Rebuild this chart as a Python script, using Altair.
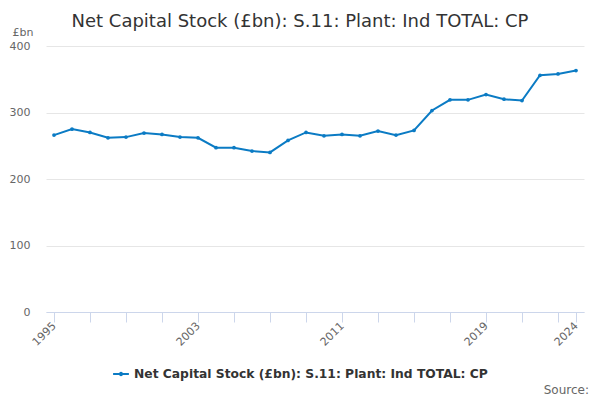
import altair as alt
import pandas as pd

years = list(range(1995, 2025))
values = [266, 275, 270, 262, 263, 269, 267, 263, 262, 247,
          247, 242, 240, 258, 270, 265, 267, 265, 272, 266,
          273, 303, 319, 319, 327, 320, 318, 356, 358, 363]
series_name = "Net Capital Stock (£bn): S.11: Plant: Ind TOTAL: CP"
tick_years = [1995, 1997, 1999, 2001, 2003, 2005, 2007, 2009, 2011, 2013,
              2015, 2017, 2019, 2021, 2023, 2024]
label_years = [1995, 2003, 2011, 2019, 2024]
y_ticks = [0, 100, 200, 300, 400]
source_text = ["Source:"]

df = pd.DataFrame({"year": years, "value": values, "series": series_name})

FONT = "DejaVu Sans"
COLOR = "#0b7bc4"

label_expr = "indexof([" + ",".join(str(y) for y in label_years) + "], datum.value) >= 0 ? datum.value : ''"

base = alt.Chart(df).encode(
    x=alt.X("year:Q",
            scale=alt.Scale(domain=[1995, 2024], nice=False, zero=False, padding=8),
            axis=alt.Axis(values=tick_years, labelExpr=label_expr, labelAngle=-45,
                          labelAlign="right", labelBaseline="middle", labelFontSize=11,
                          labelColor="#666666", labelFont=FONT, grid=False,
                          domainColor="#ccd6eb", tickColor="#ccd6eb", tickSize=10,
                          labelPadding=2, title=None, labelOverlap=False,
                          labelFlush=False)),
    y=alt.Y("value:Q",
            scale=alt.Scale(domain=[0, 400], nice=False),
            axis=alt.Axis(values=y_ticks, labelFontSize=11, labelColor="#666666",
                          labelFont=FONT, gridColor="#e6e6e6", domain=False, ticks=False,
                          labelPadding=16, title="£bn", titleAngle=0, titleX=-34,
                          titleY=-11, titleAlign="left", titleBaseline="alphabetic",
                          titleFont=FONT, titleFontSize=11, titleFontWeight="normal",
                          titleColor="#666666")),
    color=alt.Color("series:N", scale=alt.Scale(range=[COLOR]),
                    legend=alt.Legend(orient="none", legendX=66, legendY=319,
                                      title=None, labelFont=FONT, labelFontSize=12.3,
                                      labelFontWeight="bold", labelColor="#333333",
                                      symbolType="M-1,0L1,0M-0.15,0a0.15,0.15 0 1,0 0.3,0a0.15,0.15 0 1,0 -0.3,0",
                                      symbolStrokeWidth=2, symbolSize=250,
                                      labelLimit=500)),
)

line = base.mark_line(strokeWidth=2, point=alt.OverlayMarkDef(size=14, filled=True, color=COLOR))

src = alt.Chart(pd.DataFrame({"t": source_text})).mark_text(
    font=FONT, fontSize=12, color="#666666", align="right", baseline="alphabetic"
).encode(text="t:N", x=alt.value(543), y=alt.value(348))

chart = alt.layer(line, src).properties(
    width=538, height=266,
    title=alt.TitleParams(series_name, anchor="middle", dx=-15, dy=19, offset=14,
                          font=FONT, fontSize=18, fontWeight="normal", color="#333333"),
    padding={"left": 38, "top": 38, "right": 8, "bottom": 86},
    autosize=alt.AutoSizeParams(type="none"),
).configure_view(stroke=None)

chart.save("out.html", embed_options={"renderer": "svg", "actions": False})
